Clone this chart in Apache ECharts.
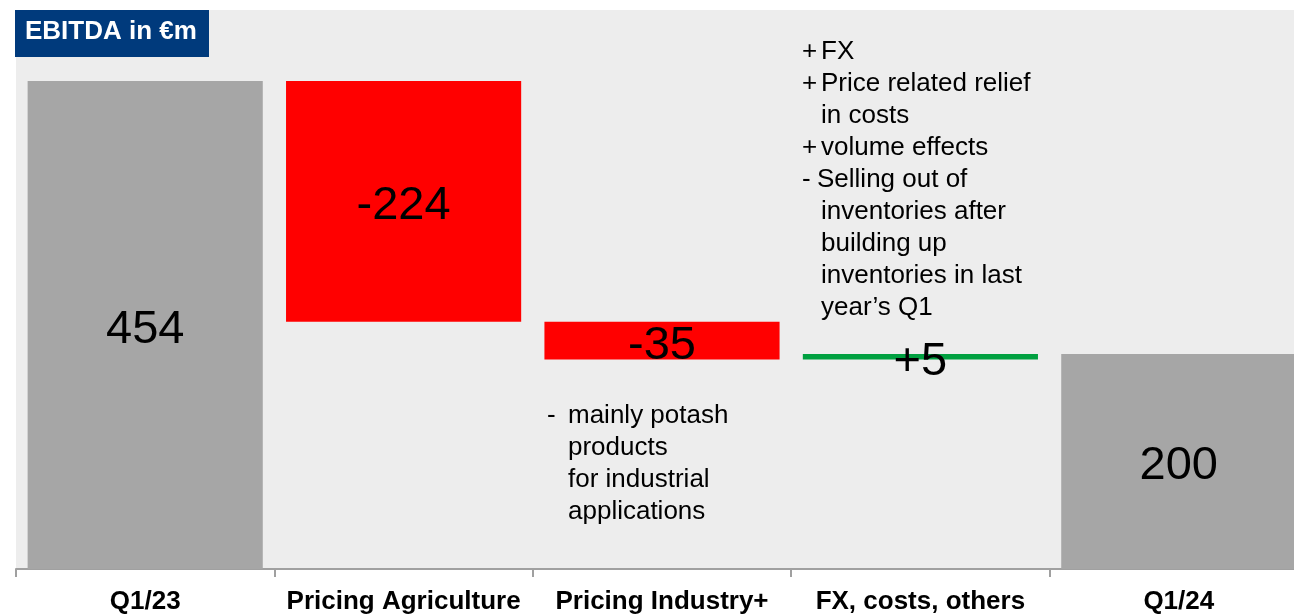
<!DOCTYPE html>
<html>
<head>
<meta charset="utf-8">
<script src="https://cdn.jsdelivr.net/npm/echarts@6/dist/echarts.min.js"></script>
<style>
html,body{margin:0;padding:0;background:#fff;overflow:hidden;}
#chart{width:1294px;height:615px;}
</style>
</head>
<body>
<div id="chart"></div>
<script>
var categories = ['Q1/23', 'Pricing Agriculture', 'Pricing Industry+', 'FX, costs, others', 'Q1/24'];
var values = [454, -224, -35, 5, 200];
var valueLabels = ['454', '-224', '-35', '+5', '200'];
var barKinds = ['total', 'delta', 'delta', 'delta', 'total'];
var titleText = 'EBITDA in €m';
var noteFX = [
  ['+', 'FX'],
  ['+', 'Price related relief'],
  ['', 'in costs'],
  ['+', 'volume effects'],
  ['-', 'Selling out of'],
  ['', 'inventories after'],
  ['', 'building up'],
  ['', 'inventories in last'],
  ['', 'year\u2019s Q1']
];
var noteIndustry = [
  ['-', 'mainly potash'],
  ['', 'products'],
  ['', 'for industrial'],
  ['', 'applications']
];

var COLORS = { total: '#A6A6A6', neg: '#FF0000', pos: '#00A040' };
var FONT = '"Liberation Sans", Arial, sans-serif';

// build waterfall base + visible bars
var base = [], visible = [];
var running = 0;
for (var i = 0; i < values.length; i++) {
  var v = values[i];
  if (barKinds[i] === 'total') {
    base.push(0);
    visible.push({ value: v, itemStyle: { color: COLORS.total } });
    running = v;
  } else {
    var next = running + v;
    base.push(Math.min(running, next));
    visible.push({ value: Math.abs(v), itemStyle: { color: v < 0 ? COLORS.neg : COLORS.pos } });
    running = next;
  }
}

var chart = echarts.init(document.getElementById('chart'));

function noteGraphics(lines, x0, y0, indent, lh, dashIndent) {
  var els = [];
  lines.forEach(function (l, k) {
    if (l[0]) {
      els.push({ type: 'text', left: x0, top: y0 + k * lh,
        style: { text: l[0], font: '26px ' + FONT, fill: '#000' } });
    }
    var dx = (l[0] === '-' && dashIndent != null) ? dashIndent : indent;
    els.push({ type: 'text', left: x0 + dx, top: y0 + k * lh,
      style: { text: l[1], font: '26px ' + FONT, fill: '#000' } });
  });
  return els;
}

var graphics = [
  { type: 'rect', left: 15, top: 10, shape: { width: 194, height: 47 }, style: { fill: '#003A7C' }, z: 10 },
  { type: 'text', left: 25, top: 19, z: 11,
    style: { text: titleText, font: 'bold 26px ' + FONT, fill: '#fff' } }
].concat(noteGraphics(noteFX, 802, 39, 19, 32, 15))
 .concat(noteGraphics(noteIndustry, 547, 403, 21, 32));

chart.setOption({
  animation: false,
  grid: { left: 16, width: 1292, top: 10, bottom: 46, show: true, backgroundColor: '#EDEDED', borderWidth: 0,
          containLabel: false, outerBoundsMode: 'none' },
  xAxis: {
    type: 'category',
    data: categories,
    axisLine: { lineStyle: { color: '#A0A0A0', width: 2 } },
    axisTick: { show: true, alignWithLabel: false, length: 8, lineStyle: { color: '#A0A0A0', width: 2 } },
    axisLabel: { color: '#000', fontWeight: 'bold', fontSize: 26, fontFamily: FONT, margin: 20, interval: 0 }
  },
  yAxis: {
    type: 'value', min: 0, max: 520, show: false, splitLine: { show: false }
  },
  series: [
    { type: 'bar', stack: 'w', data: base, itemStyle: { color: 'transparent' }, barCategoryGap: '9%', silent: true },
    { type: 'bar', stack: 'w', data: visible, barCategoryGap: '9%',
      label: {
        show: true, position: 'inside', color: '#000', fontSize: 47, fontFamily: FONT, offset: [0, 5],
        formatter: function (p) { return valueLabels[p.dataIndex]; }
      }
    }
  ],
  graphic: graphics
});
</script>
</body>
</html>
